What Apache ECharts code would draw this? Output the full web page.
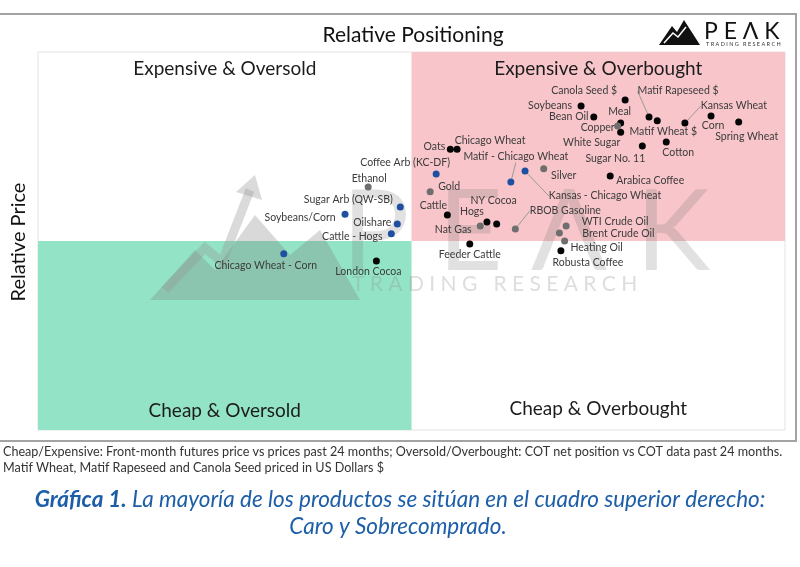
<!DOCTYPE html>
<html><head><meta charset="utf-8">
<script src="https://cdn.jsdelivr.net/npm/echarts@6/dist/echarts.min.js"></script>
<style>html,body{margin:0;padding:0;background:#fff}#c{width:800px;height:567px}</style>
</head><body><div id="c"></div>
<script>
// ---- data (x: oversold -> overbought, y: cheap -> expensive), scale 0..100 ----
const names = ["Canola Seed $","Soybeans","Bean Oil","Meal","Copper","White Sugar","Sugar No. 11","Matif Wheat $","Matif Rapeseed $","Kansas Wheat","Corn","Spring Wheat","Cotton","Oats","Chicago Wheat","Coffee Arb (KC-DF)","Matif - Chicago Wheat","Kansas - Chicago Wheat","Silver","Arabica Coffee","Gold","Cattle","Hogs","NY Cocoa","Nat Gas","RBOB Gasoline","WTI Crude Oil","Brent Crude Oil","Heating Oil","Robusta Coffee","Feeder Cattle","Ethanol","Sugar Arb (QW-SB)","Soybeans/Corn","Oilshare","Cattle - Hogs","Chicago Wheat - Corn","London Cocoa"];
const xs = [78.6,72.7,74.4,78.0,77.6,78.0,80.9,82.9,81.8,86.6,90.1,93.8,84.1,55.2,56.1,53.3,63.3,65.2,67.7,76.6,52.5,54.8,60.1,61.4,59.2,63.9,70.7,69.8,70.5,70.0,57.8,44.2,48.5,41.1,48.1,47.3,32.9,45.3];
const ys = [87.3,85.7,82.8,81.2,80.4,78.8,75.1,81.8,82.8,81.2,83.1,81.5,76.2,74.3,74.3,67.7,65.6,68.5,69.1,67.2,63.0,56.9,55.0,54.5,54.0,53.2,54.0,52.1,50.0,47.4,49.2,64.3,59.0,57.1,54.5,51.9,46.6,44.7];
const kinds = ["outright","outright","outright","outright","metal_energy","outright","outright","outright","outright","outright","outright","outright","outright","outright","outright","spread","spread","spread","metal_energy","outright","metal_energy","outright","outright","outright","metal_energy","metal_energy","metal_energy","metal_energy","metal_energy","outright","outright","metal_energy","spread","spread","spread","spread","spread","outright"];
const quadrantLabels = ["Expensive & Oversold","Expensive & Overbought","Cheap & Oversold","Cheap & Overbought"];

// ---- styling: label offsets (px from the dot) and leader lines ----
const LABEL_OFFSET = {"Canola Seed $":[-41,-9],"Soybeans":[-31,0],"Bean Oil":[-25,0],"Meal":[-1,-11],"Copper":[-20,2],"White Sugar":[-29,10],"Sugar No. 11":[-27,12],"Matif Wheat $":[6,11],"Matif Rapeseed $":[29,-26],"Kansas Wheat":[49,-17],"Corn":[2,10],"Spring Wheat":[8,15],"Cotton":[12,11],"Oats":[-16,-3],"Chicago Wheat":[33,-9],"Coffee Arb (KC-DF)":[-31,-11],"Matif - Chicago Wheat":[5,-25],"Kansas - Chicago Wheat":[80,25],"Silver":[20,7],"Arabica Coffee":[40,5],"Gold":[19,-5],"Cattle":[-14,-9],"Hogs":[-15,-10],"NY Cocoa":[-3,-23],"Nat Gas":[-27,4],"RBOB Gasoline":[50,-18],"WTI Crude Oil":[49,-4],"Brent Crude Oil":[59,1],"Heating Oil":[32,7],"Robusta Coffee":[27,12],"Feeder Cattle":[0,11],"Ethanol":[1,-8],"Sugar Arb (QW-SB)":[-52,-7],"Soybeans/Corn":[-45,3],"Oilshare":[-25,-1],"Cattle - Hogs":[-39,3],"Chicago Wheat - Corn":[-18,12],"London Cocoa":[-8,11]};
const LEADERS = ["Matif Rapeseed $","Kansas Wheat","Matif - Chicago Wheat","Kansas - Chicago Wheat","RBOB Gasoline"];
const KIND_COLOR = {outright:"#050505", metal_energy:"#6e6e6e", spread:"#1f4f9f"};

const chart = echarts.init(document.getElementById('c'), null, {renderer:'canvas'});
const FONT = 'Lato, "Open Sans", sans-serif';
const CAPTION_BLUE = '#1d5ea8';

function makeSeries(kind){
  const idx = names.map((n,i)=>i).filter(i=>kinds[i]===kind);
  const sNames = idx.map(i=>names[i]);
  return {
    type:'scatter', name:kind, z:5,
    symbolSize:7,
    itemStyle:{color:KIND_COLOR[kind], opacity:1},
    label:{show:true, position:'inside', formatter:'{b}', color:'#3b3b3b', fontSize:10.5, fontFamily:FONT},
    labelLine:{show:false, length2:0, lineStyle:{color:'#9a9a9a', width:1}},
    labelLayout:function(p){ const o = LABEL_OFFSET[sNames[p.dataIndex]] || [0,0]; return {dx:o[0], dy:o[1], hideOverlap:false}; },
    emphasis:{disabled:true},
    data: idx.map(i=>({name:names[i], value:[xs[i], ys[i]], labelLine:{show: LEADERS.indexOf(names[i])>=0}}))
  };
}

const qLabel = (pos, dist)=>({show:true, position:pos, distance:dist, color:'#1c1c1c', fontSize:19, fontFamily:FONT});

const option = {
  animation:false,
  grid:{left:38, top:52, width:747, height:378, show:true, borderColor:'#e3e3e3', borderWidth:1, backgroundColor:'#fff'},
  xAxis:{type:'value', min:0, max:100, show:false},
  yAxis:{type:'value', min:0, max:100, show:false},
  series:[
    {type:'scatter', z:0, data:[], silent:true,
     markArea:{silent:true, z:0, data:[
       [{xAxis:0,yAxis:50,itemStyle:{color:'#93e3c6'},label:qLabel('insideBottom',10),name:quadrantLabels[2]},{xAxis:50,yAxis:0}],
       [{xAxis:50,yAxis:100,itemStyle:{color:'#f7c5ca'},label:qLabel('insideTop',7),name:quadrantLabels[1]},{xAxis:100,yAxis:50}],
       [{xAxis:0,yAxis:100,itemStyle:{color:'rgba(0,0,0,0)'},label:qLabel('insideTop',7),name:quadrantLabels[0]},{xAxis:50,yAxis:50}],
       [{xAxis:50,yAxis:50,itemStyle:{color:'rgba(0,0,0,0)'},label:qLabel('insideBottom',12),name:quadrantLabels[3]},{xAxis:100,yAxis:0}]
     ]}},
    makeSeries('outright'), makeSeries('metal_energy'), makeSeries('spread')
  ],
  graphic:[
    // outer frame
    {type:'rect', z:0, shape:{x:-1,y:14,width:797,height:427}, style:{fill:null, stroke:'#a3a3a3', lineWidth:2}, silent:true},
    // title
    {type:'text', z:10, x:413, y:35, style:{text:'Relative Positioning', fontSize:21, fontFamily:FONT, fill:'#111', align:'center', verticalAlign:'middle'}},
    // y axis name
    {type:'text', z:10, x:19, y:242, rotation:Math.PI/2, style:{text:'Relative Price', fontSize:20, fontFamily:FONT, fill:'#111', align:'center', verticalAlign:'middle'}},
    // logo top right
    {type:'polygon', z:10, shape:{points:[[659,45],[672,26],[677,32],[684,20],[700,45]]}, style:{fill:'#111'}},
    {type:'polyline', z:11, shape:{points:[[664,43],[673,33],[678,37],[686,27]]}, style:{stroke:'#fff', lineWidth:1.5, fill:null}},
    {type:'text', z:10, x:704, y:20, style:{text:'P E Λ K', fontSize:23, fontFamily:FONT, fill:'#111'}},
    {type:'text', z:10, x:706, y:41, style:{text:'T R A D I N G   R E S E A R C H', fontSize:5.5, fontFamily:FONT, fill:'#333'}},
    // watermark
    {type:'polygon', z:1, silent:true, shape:{points:[[150,300],[195,250],[215,270],[255,215],[290,255],[320,230],[360,300]]}, style:{fill:'rgba(120,120,120,0.28)'}},
    {type:'polyline', z:1, silent:true, shape:{points:[[165,290],[205,248],[222,262],[250,190]]}, style:{stroke:'rgba(150,150,150,0.35)', lineWidth:9, fill:null}},
    {type:'polygon', z:1, silent:true, shape:{points:[[236,192],[255,175],[262,200]]}, style:{fill:'rgba(150,150,150,0.35)'}},
    {type:'text', z:1, silent:true, x:342, y:178, style:{text:'P E Λ K', fontSize:112, fontFamily:FONT, fill:'rgba(120,120,120,0.22)'}},
    {type:'text', z:1, silent:true, x:352, y:274, style:{text:'T R A D I N G   R E S E A R C H', fontSize:21, fontFamily:FONT, fill:'rgba(150,150,150,0.32)'}},
    // footnote
    {type:'text', z:10, x:3, y:445, style:{text:'Cheap/Expensive: Front-month futures price vs prices past 24 months; Oversold/Overbought: COT net position vs COT data past 24 months.', fontSize:12.6, fontFamily:FONT, fill:'#333'}},
    {type:'text', z:10, x:3, y:461, style:{text:'Matif Wheat, Matif Rapeseed and Canola Seed priced in US Dollars $', fontSize:12.6, fontFamily:FONT, fill:'#333'}},
    // caption
    {type:'text', z:10, x:400, y:500, style:{text:'{b|Gráfica 1.} {i|La mayoría de los productos se sitúan en el cuadro superior derecho:}', align:'center', verticalAlign:'middle', fill:CAPTION_BLUE, fontSize:22.5, fontStyle:'italic', fontFamily:FONT, rich:{b:{fontSize:22.5, fontWeight:'bold', fontStyle:'italic', fontFamily:FONT, fill:CAPTION_BLUE}, i:{fontSize:22.5, fontStyle:'italic', fontFamily:FONT, fill:CAPTION_BLUE}}}},
    {type:'text', z:10, x:398, y:527, style:{text:'Caro y Sobrecomprado.', align:'center', verticalAlign:'middle', fontSize:22.5, fontStyle:'italic', fontFamily:FONT, fill:CAPTION_BLUE}}
  ]
};
chart.setOption(option);
</script></body></html>
